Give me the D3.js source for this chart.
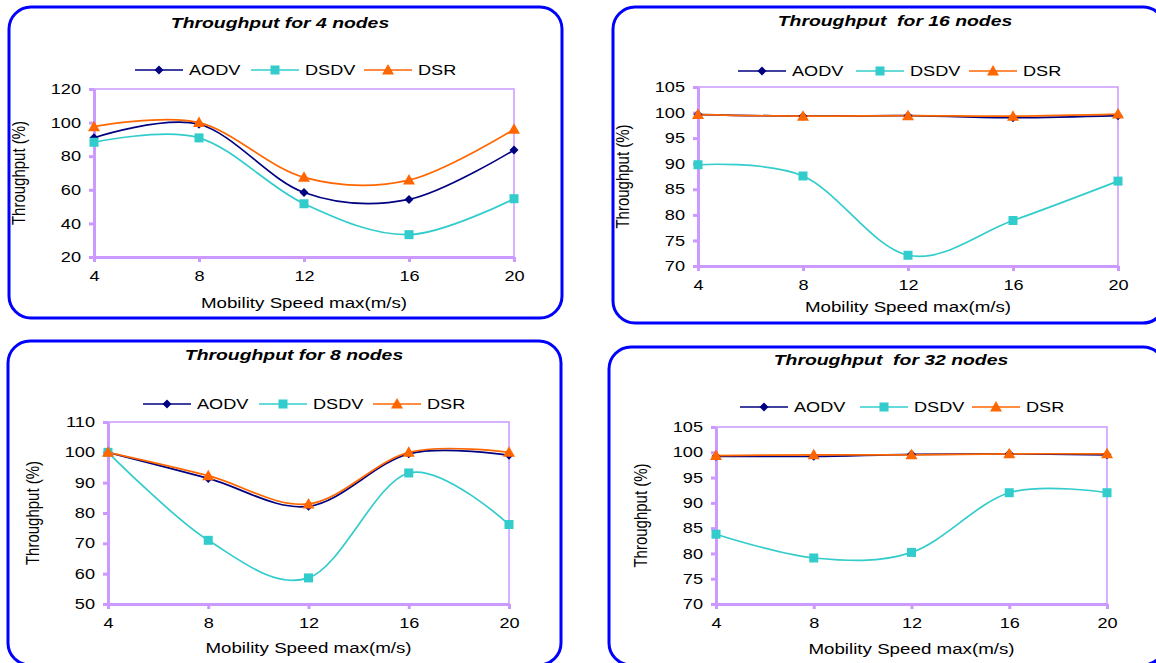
<!DOCTYPE html>
<html>
<head>
<meta charset="utf-8">
<script src="https://cdn.jsdelivr.net/npm/d3@7"></script>
<style>
  body { margin: 0; background: #fff; }
  svg { display: block; font-family: "Liberation Sans", Arial, sans-serif; }
</style>
</head>
<body>
<script>
// x categories (max speed, m/s)
var speeds = [4, 8, 12, 16, 20];
var protocols = ["AODV", "DSDV", "DSR"];

// throughput (%)
var aodv4 = [91, 99, 58.4, 54.3, 83.7];
var dsdv4 = [88.3, 90.9, 51.7, 33.3, 54.7];
var dsr4 = [97.6, 100, 67.4, 65.8, 96];

var aodv16 = [99.6, 99.3, 99.4, 99.0, 99.4];
var dsdv16 = [89.8, 87.6, 72.1, 78.9, 86.6];
var dsr16 = [99.6, 99.3, 99.4, 99.3, 99.7];

var aodv8 = [100, 91.4, 82.2, 99.5, 99];
var dsdv8 = [100, 71, 58.6, 93.2, 76.2];
var dsr8 = [100, 92.3, 83, 100, 100];

var aodv32 = [99.2, 99.2, 99.6, 99.7, 99.5];
var dsdv32 = [83.8, 79.1, 80.2, 92, 92];
var dsr32 = [99.35, 99.5, 99.5, 99.7, 99.7];

// y tick labels
var ticks4 = [20, 40, 60, 80, 100, 120];
var ticks8 = [50, 60, 70, 80, 90, 100, 110];
var ticks16 = [70, 75, 80, 85, 90, 95, 100, 105];
var ticks32 = [70, 75, 80, 85, 90, 95, 100, 105];

var colors = ["#000080", "#33cccc", "#ff6600"];
var axisColor = "#cc99ff";
var stretch = 1.25; // text in the picture is drawn wide

var panels = [
  {title: "Throughput for 4 nodes", series: [aodv4, dsdv4, dsr4], ticks: ticks4,
   frame: {x: 9, y: 7, w: 553, h: 311}, plot: {l: 94, t: 89, r: 514, b: 257},
   titleAt: [280, 28], legendY: 70, legendX: [135, 251, 364], xTitleY: 308},
  {title: "Throughput  for 16 nodes", series: [aodv16, dsdv16, dsr16], ticks: ticks16,
   frame: {x: 613, y: 7, w: 552, h: 316}, plot: {l: 698, t: 87, r: 1118, b: 266},
   titleAt: [895, 26], legendY: 71, legendX: [738, 856, 969], xTitleY: 312},
  {title: "Throughput for 8 nodes", series: [aodv8, dsdv8, dsr8], ticks: ticks8,
   frame: {x: 8, y: 341, w: 553, h: 324}, plot: {l: 108, t: 422, r: 509, b: 604},
   titleAt: [294, 360], legendY: 404, legendX: [143, 259, 373], xTitleY: 653},
  {title: "Throughput  for 32 nodes", series: [aodv32, dsdv32, dsr32], ticks: ticks32,
   frame: {x: 609, y: 347, w: 556, h: 318}, plot: {l: 716, t: 427, r: 1107, b: 604},
   titleAt: [891, 365], legendY: 407, legendX: [740, 860, 972], xTitleY: 654}
];

var svg = d3.select("body").append("svg").attr("width", 1156).attr("height", 663);

// marker shapes
function marker(g, i, x, y) {
  if (i === 0) {
    g.append("path").attr("d", "M0,-4.5L4.5,0L0,4.5L-4.5,0Z")
      .attr("transform", "translate(" + x + "," + y + ")").attr("fill", colors[0]);
  } else if (i === 1) {
    g.append("rect").attr("x", x - 4.5).attr("y", y - 4.5).attr("width", 9).attr("height", 9)
      .attr("fill", colors[1]);
  } else {
    g.append("path").attr("d", "M0,-6L6,4.5L-6,4.5Z")
      .attr("transform", "translate(" + x + "," + y + ")").attr("fill", colors[2]);
  }
}

function label(g, x, y, txt, size, anchor) {
  return g.append("text")
    .attr("transform", "translate(" + x + "," + y + ") scale(" + stretch + ",1)")
    .attr("text-anchor", anchor || "middle")
    .attr("font-size", size)
    .style("white-space", "pre")
    .text(txt);
}

panels.forEach(function(p) {
  var g = svg.append("g");
  var f = p.frame;
  g.append("rect").attr("x", f.x).attr("y", f.y).attr("width", f.w).attr("height", f.h)
    .attr("rx", 22).attr("fill", "#fff").attr("stroke", "#0000ff").attr("stroke-width", 3);

  var x = d3.scalePoint().domain(speeds).range([p.plot.l, p.plot.r]);
  var y = d3.scaleLinear().domain(d3.extent(p.ticks)).range([p.plot.b, p.plot.t]);

  // thin plot-area border (top and right)
  g.append("rect").attr("x", p.plot.l).attr("y", p.plot.t)
    .attr("width", p.plot.r - p.plot.l).attr("height", p.plot.b - p.plot.t)
    .attr("fill", "none").attr("stroke", axisColor).attr("stroke-width", 1.5);

  var ya = g.append("g").attr("transform", "translate(" + p.plot.l + ",0)")
    .call(d3.axisLeft(y).tickValues(p.ticks).tickSize(5).tickSizeOuter(0).tickPadding(5.4));
  var xa = g.append("g").attr("transform", "translate(0," + p.plot.b + ")")
    .call(d3.axisBottom(x).tickSize(5).tickSizeOuter(0).tickPadding(9));
  [ya, xa].forEach(function(a) {
    a.select(".domain").attr("stroke", axisColor).attr("stroke-width", 3);
    a.selectAll(".tick line").attr("stroke", axisColor).attr("stroke-width", 3);
    a.selectAll(".tick text").attr("font-size", 14.5).attr("fill", "#000")
      .attr("font-family", "Liberation Sans, Arial, sans-serif")
      .attr("transform", "scale(" + stretch + ",1)");
  });
  ya.selectAll(".tick text").attr("x", -13 / stretch);

  var line = d3.line().x(function(d, i) { return x(speeds[i]); }).y(function(d) { return y(d); })
    .curve(d3.curveCardinal.tension(0));

  p.series.forEach(function(s, i) {
    g.append("path").attr("d", line(s)).attr("fill", "none")
      .attr("stroke", colors[i]).attr("stroke-width", 1.7);
  });
  p.series.forEach(function(s, i) {
    s.forEach(function(v, j) { marker(g, i, x(speeds[j]), y(v)); });
  });

  // legend
  protocols.forEach(function(name, i) {
    var lx = p.legendX[i];
    g.append("line").attr("x1", lx).attr("x2", lx + 48).attr("y1", p.legendY).attr("y2", p.legendY)
      .attr("stroke", colors[i]).attr("stroke-width", 1.7);
    marker(g, i, lx + 24, p.legendY);
    label(g, lx + 54, p.legendY + 5, name, 14.5, "start");
  });

  label(g, p.titleAt[0], p.titleAt[1], p.title, 15.5)
    .attr("font-weight", "bold").attr("font-style", "italic");
  label(g, (p.plot.l + p.plot.r) / 2, p.xTitleY, "Mobility Speed max(m/s)", 15);
  g.append("text")
    .attr("transform", "translate(" + (p.plot.l - 69) + "," + ((p.plot.t + p.plot.b) / 2) + ") scale(" + stretch + ",1) rotate(-90)")
    .attr("text-anchor", "middle").attr("font-size", 15)
    .text("Throughput (%)");
});
</script>
</body>
</html>
